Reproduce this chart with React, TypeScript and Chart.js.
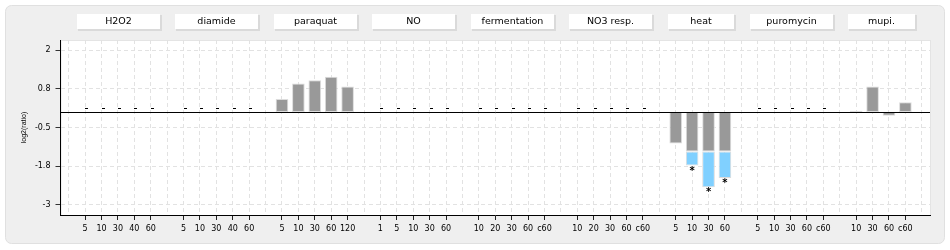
import React, { useEffect, useRef } from 'react';
import { Chart, registerables } from 'chart.js';

Chart.register(...registerables);

// ---- data ----
const groupNames = ['H2O2', 'diamide', 'paraquat', 'NO', 'fermentation', 'NO3 resp.', 'heat', 'puromycin', 'mupi.'];

const h2o2Times = ['5', '10', '30', '40', '60'];
const diamideTimes = ['5', '10', '30', '40', '60'];
const paraquatTimes = ['5', '10', '30', '60', '120'];
const noTimes = ['1', '5', '10', '30', '60'];
const fermentationTimes = ['10', '20', '30', '60', 'c60'];
const no3Times = ['10', '20', '30', '60', 'c60'];
const heatTimes = ['5', '10', '30', '60'];
const puromycinTimes = ['5', '10', '30', '60', 'c60'];
const mupiTimes = ['10', '30', '60', 'c60'];

// null = not measured (drawn as "-")
const h2o2Values = [null, null, null, null, null];
const diamideValues = [null, null, null, null, null];
const paraquatValues = [0.42, 0.92, 1.03, 1.14, 0.83];
const noValues = [null, null, null, null, null];
const fermentationValues = [null, null, null, null, null];
const no3Values = [null, null, null, null, null];
const heatValues = [-1.02, -1.28, -1.28, -1.28];
const heatBeyond = [null, -0.45, -1.15, -0.85];
const heatSignificant = [false, true, true, true];
const puromycinValues = [null, null, null, null, null];
const mupiValues = [0.04, 0.83, -0.12, 0.32];

const yTickValues = [2, 0.75, -0.5, -1.75, -3];
const yTickLabels = ['2', '0.8', '-0.5', '-1.8', '-3'];

const groupTimes = [h2o2Times, diamideTimes, paraquatTimes, noTimes, fermentationTimes, no3Times, heatTimes, puromycinTimes, mupiTimes];
const groupValues = [h2o2Values, diamideValues, paraquatValues, noValues, fermentationValues, no3Values, heatValues, puromycinValues, mupiValues];
const heatIndex = 6;

const labels: string[] = [''];
const grey: (number | null)[] = [null];
const blue: (number | null)[] = [null];
const stars: boolean[] = [false];
const groupRanges: { name: string; first: number; last: number }[] = [];

groupTimes.forEach((times, g) => {
  const first = labels.length;
  times.forEach((t, i) => {
    labels.push(t);
    grey.push(groupValues[g][i] as number | null);
    blue.push(g === heatIndex ? heatBeyond[i] : null);
    stars.push(g === heatIndex ? heatSignificant[i] : false);
  });
  groupRanges.push({ name: groupNames[g], first, last: labels.length - 1 });
  labels.push('');
  grey.push(null);
  blue.push(null);
  stars.push(false);
});

const decorPlugin = {
  id: 'decor',
  beforeDraw(chart: any) {
    const { ctx, chartArea } = chart;
    ctx.save();
    ctx.fillStyle = '#ffffff';
    ctx.fillRect(0, 0, chart.width, chart.height);
    ctx.beginPath();
    (ctx as any).roundRect(5.5, 5.5, 939, 238, 6);
    ctx.fillStyle = '#efefef';
    ctx.fill();
    ctx.strokeStyle = '#e0e0e0';
    ctx.lineWidth = 1;
    ctx.stroke();
    ctx.fillStyle = '#ffffff';
    ctx.fillRect(chartArea.left, chartArea.top, chartArea.right - chartArea.left, chartArea.bottom - chartArea.top);
    ctx.strokeStyle = '#e4e4e4';
    ctx.strokeRect(chartArea.left + 0.5, chartArea.top + 0.5, chartArea.right - chartArea.left, chartArea.bottom - chartArea.top);
    ctx.restore();
  },
  afterDatasetsDraw(chart: any) {
    const { ctx, chartArea, scales } = chart;
    const xs = scales.x;
    const ys = scales.y;
    const y0 = ys.getPixelForValue(0);
    ctx.save();
    // zero line
    ctx.strokeStyle = '#000';
    ctx.lineWidth = 1;
    ctx.beginPath();
    ctx.moveTo(chartArea.left, Math.round(y0) + 0.5);
    ctx.lineTo(chartArea.right, Math.round(y0) + 0.5);
    ctx.stroke();
    // dashes for not measured
    ctx.fillStyle = '#000';
    labels.forEach((lab, i) => {
      if (lab !== '' && grey[i] === null) {
        const x = xs.getPixelForValue(i);
        ctx.fillRect(Math.round(x), Math.round(y0) - 4, 3, 1);
      }
    });
    // significance stars
    const meta = chart.getDatasetMeta(1);
    ctx.font = 'bold 10px "DejaVu Sans"';
    ctx.textAlign = 'center';
    ctx.textBaseline = 'top';
    stars.forEach((s, i) => {
      if (s && meta.data[i]) {
        const el = meta.data[i];
        ctx.fillText('*', el.x, el.y + 0.5);
      }
    });
    ctx.restore();
  },
  afterDraw(chart: any) {
    const { ctx, scales } = chart;
    const xs = scales.x;
    const slot = xs.getPixelForValue(1) - xs.getPixelForValue(0);
    ctx.save();
    groupRanges.forEach((g) => {
      const x1 = Math.round(xs.getPixelForValue(g.first) - slot / 2);
      const x2 = Math.round(xs.getPixelForValue(g.last) + slot / 2 + 1);
      const top = 14;
      const bottom = 29;
      ctx.fillStyle = '#dadada';
      ctx.fillRect(x1 + 1, top + 1, x2 - x1 + 1, bottom - top + 1);
      ctx.fillStyle = '#ffffff';
      ctx.fillRect(x1, top, x2 - x1, bottom - top);
      ctx.fillStyle = '#000';
      ctx.font = '9.5px "DejaVu Sans"';
      ctx.textAlign = 'center';
      ctx.textBaseline = 'middle';
      ctx.fillText(g.name, (x1 + x2) / 2, (top + bottom) / 2 + 0.5);
    });
    ctx.restore();
  },
};

export default function App() {
  const canvasRef = useRef<HTMLCanvasElement | null>(null);

  useEffect(() => {
    const canvas = canvasRef.current;
    if (!canvas) return;
    const chart = new Chart(canvas, {
      type: 'bar',
      data: {
        labels,
        datasets: [
          {
            label: 'log2(ratio)',
            data: grey,
            backgroundColor: '#999999',
            borderColor: '#dcdcdc',
            borderWidth: 1,
            borderSkipped: false,
            barPercentage: 0.77,
            categoryPercentage: 1,
          },
          {
            label: 'beyond',
            data: blue,
            backgroundColor: '#80d0ff',
            borderColor: '#dcdcdc',
            borderWidth: 1,
            borderSkipped: false,
            barPercentage: 0.77,
            categoryPercentage: 1,
          },
        ],
      } as any,
      options: {
        responsive: false,
        animation: false,
        devicePixelRatio: 1,
        layout: { padding: { left: 20, top: 40, right: 20, bottom: 10 } },
        plugins: { legend: { display: false }, tooltip: { enabled: false } },
        scales: {
          x: {
            stacked: true,
            offset: true,
            grid: {
              offset: false,
              color: '#e2e2e2',
              tickLength: 5,
              tickColor: (c: any) => (labels[c.index] ? '#222' : 'rgba(0,0,0,0)'),
            },
            border: { display: true, color: '#000', width: 1, dash: [4, 3] },
            ticks: {
              autoSkip: false,
              maxRotation: 0,
              minRotation: 0,
              padding: 4,
              color: '#000',
              font: { family: 'DejaVu Sans', size: 8 },
            },
            afterFit: (s: any) => {
              s.height = 25;
            },
          },
          y: {
            stacked: true,
            min: -3.33,
            max: 2.33,
            afterBuildTicks: (s: any) => {
              s.ticks = yTickValues.map((v) => ({ value: v }));
            },
            grid: { color: '#e2e2e2', tickLength: 5, tickColor: '#333' },
            border: { display: true, color: '#000', width: 1, dash: [4, 3] },
            ticks: {
              padding: 5,
              color: '#000',
              font: { family: 'DejaVu Sans', size: 8 },
              callback: (v: any) => {
                const k = yTickValues.indexOf(Number(v));
                return k >= 0 ? yTickLabels[k] : '';
              },
            },
            title: {
              display: true,
              text: 'log2(ratio)',
              color: '#000',
              padding: 0,
              font: { family: 'Liberation Sans', size: 7 },
            },
            afterFit: (s: any) => {
              s.width = 40.5;
            },
          },
        },
      } as any,
      plugins: [decorPlugin],
    });
    return () => chart.destroy();
  }, []);

  return (
    <div style={{ position: 'absolute', left: 0, top: 0, width: 950, height: 250 }}>
      <canvas ref={canvasRef} width={950} height={250} style={{ width: 950, height: 250, display: 'block' }} />
    </div>
  );
}
